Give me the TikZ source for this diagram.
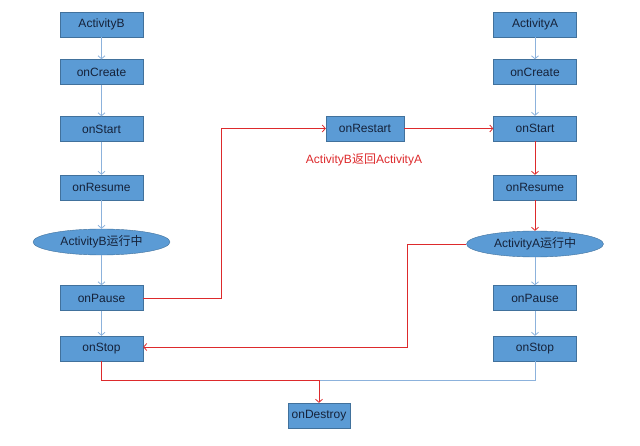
\documentclass[tikz,border=0pt]{standalone}
\usepackage{fontspec}
\setmainfont{Liberation Sans}
\newfontfamily\cjk{Noto Sans CJK SC}
\usetikzlibrary{shapes.geometric,arrows.meta}
\definecolor{boxblue}{HTML}{5B9BD5}
\definecolor{boxline}{HTML}{41719C}
\definecolor{flowblue}{HTML}{8CB2DC}
\definecolor{flowred}{HTML}{DD2A2C}
\definecolor{boxtext}{HTML}{15223A}
\tikzset{
  stagebox/.style={draw=boxline,fill=boxblue,text=boxtext,minimum width=83pt,minimum height=25pt,inner sep=0pt,font=\fontsize{12}{14}\selectfont},
  runstate/.style={ellipse,draw=boxline,fill=boxblue,text=boxtext,minimum width=137pt,minimum height=26pt,inner sep=0pt,font=\fontsize{12}{14}\selectfont},
  blueflow/.style={draw=flowblue,line width=0.8pt,-{Straight Barb[length=3pt,width=7pt]}},
  redflow/.style={draw=flowred,line width=0.8pt,-{Straight Barb[length=3pt,width=7pt]}}
}
\begin{document}
\begin{tikzpicture}[x=1pt,y=-1pt]
\useasboundingbox (0,0) rectangle (640,446);
% left column
\node[stagebox] (actB) at (101.5,24.5) {ActivityB};
\node[stagebox] (createB) at (101.5,72) {onCreate};
\node[stagebox] (startB) at (101.5,129) {onStart};
\node[stagebox] (resumeB) at (101.5,187.5) {onResume};
\node[runstate] (runB) at (101.5,242) {ActivityB{\cjk 运行中}};
\node[stagebox] (pauseB) at (101.5,298) {onPause};
\node[stagebox] (stopB) at (101.5,348.5) {onStop};
% right column
\node[stagebox] (actA) at (535,24.5) {ActivityA};
\node[stagebox] (createA) at (535,72) {onCreate};
\node[stagebox] (startA) at (535,128.5) {onStart};
\node[stagebox] (resumeA) at (535,187.5) {onResume};
\node[runstate] (runA) at (535,244) {ActivityA{\cjk 运行中}};
\node[stagebox] (pauseA) at (535,298) {onPause};
\node[stagebox] (stopA) at (535,348.5) {onStop};
% middle
\node[stagebox,minimum width=78pt] (restart) at (365,128.5) {onRestart};
\node[text=flowred,font=\fontsize{12}{14}\selectfont] (backlabel) at (364,160) {ActivityB{\cjk 返回}ActivityA};
\node[stagebox,minimum width=62pt] (destroy) at (319,415.5) {onDestroy};
\coordinate (join) at (319,380);

\draw[blueflow] (actB) -- (createB);
\draw[blueflow] (createB) -- (startB);
\draw[blueflow] (startB) -- (resumeB);
\draw[blueflow] (resumeB) -- (runB);
\draw[blueflow] (runB) -- (pauseB);
\draw[blueflow] (pauseB) -- (stopB);
\draw[blueflow] (actA) -- (createA);
\draw[blueflow] (createA) -- (startA);
\draw[blueflow] (runA) -- (pauseA);
\draw[blueflow] (pauseA) -- (stopA);
\draw[blueflow,-] (stopA.south) |- (join);

\draw[redflow] (startA) -- (resumeA);
\draw[redflow] (resumeA) -- (runA);
\draw[redflow] (pauseB.east) -- ++(78.5,0) |- (restart.west);
\draw[redflow] (restart) -- (startA);
\draw[redflow] (runA.west) -- ++(-59,0) |- ([yshift=1.5pt]stopB.east);
\draw[redflow] (stopB.south) |- (join) -- (destroy.north);
\end{tikzpicture}
\end{document}
